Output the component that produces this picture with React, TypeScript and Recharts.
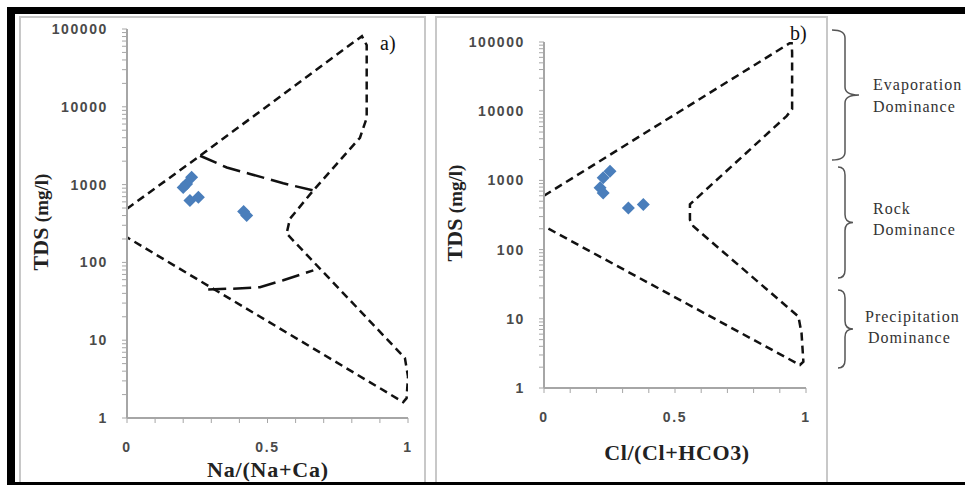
import React from 'react';
import { ComposedChart, Line, Scatter, XAxis, YAxis } from 'recharts';

// ---- data ----
const yTicks = [
  1, 2, 3, 4, 5, 6, 7, 8, 9,
  10, 20, 30, 40, 50, 60, 70, 80, 90,
  100, 200, 300, 400, 500, 600, 700, 800, 900,
  1000, 2000, 3000, 4000, 5000, 6000, 7000, 8000, 9000,
  10000, 20000, 30000, 40000, 50000, 60000, 70000, 80000, 90000,
  100000,
];
const yLabels = [1, 10, 100, 1000, 10000, 100000];
const xTicks = [0, 0.1, 0.2, 0.3, 0.4, 0.5, 0.6, 0.7, 0.8, 0.9, 1];
const xLabels = [0, 0.5, 1];

// panel a: Na/(Na+Ca)
const samplesA = [
  { x: 0.23, y: 1240 },
  { x: 0.212, y: 1020 },
  { x: 0.2, y: 920 },
  { x: 0.224, y: 624 },
  { x: 0.254, y: 690 },
  { x: 0.426, y: 400 },
  { x: 0.415, y: 450 },
];
const outerA = [
  { x: 0, y: 490 },
  { x: 0.26, y: 2350 },
  { x: 0.836, y: 81000 },
  { x: 0.853, y: 62000 },
  { x: 0.853, y: 7200 },
  { x: 0.829, y: 4000 },
  { x: 0.663, y: 840 },
  { x: 0.58, y: 365 },
  { x: 0.568, y: 235 },
  { x: 0.989, y: 5.9 },
  { x: 1.0, y: 3.4 },
  { x: 0.995, y: 1.8 },
  { x: 0.983, y: 1.6 },
  { x: 0, y: 210 },
];
const innerUpperA = [
  { x: 0.26, y: 2350 },
  { x: 0.355, y: 1660 },
  { x: 0.438, y: 1370 },
  { x: 0.556, y: 1040 },
  { x: 0.663, y: 840 },
];
const innerLowerA = [
  { x: 0.289, y: 45 },
  { x: 0.378, y: 46 },
  { x: 0.473, y: 48 },
  { x: 0.556, y: 59 },
  { x: 0.663, y: 79 },
];

// panel b: Cl/(Cl+HCO3)
const samplesB = [
  { x: 0.252, y: 1360 },
  { x: 0.226, y: 1090 },
  { x: 0.214, y: 784 },
  { x: 0.226, y: 660 },
  { x: 0.322, y: 400 },
  { x: 0.379, y: 447 },
];
const outerB = [
  { x: 0, y: 600 },
  { x: 0.945, y: 100000 },
  { x: 0.947, y: 70000 },
  { x: 0.947, y: 10700 },
  { x: 0.926, y: 8500 },
  { x: 0.557, y: 450 },
  { x: 0.557, y: 270 },
  { x: 0.57, y: 217 },
  { x: 0.971, y: 10.8 },
  { x: 0.983, y: 6.2 },
  { x: 0.99, y: 2.4 },
  { x: 0.977, y: 2.15 },
  { x: 0, y: 217 },
];

const AXIS = '#a6a6a6';
const TICKTXT = '#4a4a4a';
const BLUE = '#4a7ebb';
const SANS = "'Liberation Sans', Arial, sans-serif";
const SERIF = "'Liberation Serif', 'DejaVu Serif', 'Times New Roman', serif";

const YTick = (props: any) => {
  const { x, y, payload } = props;
  if (!yLabels.includes(payload.value)) return <g />;
  return (
    <text x={x} y={y} dy={5} textAnchor="end" fill={TICKTXT} fontSize={14} fontWeight="bold"
      style={{ fontFamily: SANS }} letterSpacing={1.6}>
      {payload.value}
    </text>
  );
};

const XTick = (props: any) => {
  const { x, y, payload } = props;
  if (!xLabels.includes(payload.value)) return <g />;
  return (
    <text x={x} y={y} dy={10} textAnchor="middle" fill={TICKTXT} fontSize={14} fontWeight="bold"
      style={{ fontFamily: SANS }} letterSpacing={1.6}>
      {payload.value}
    </text>
  );
};

const Diamond = (props: any) => {
  const { cx, cy } = props;
  const r = 6.5;
  return <path d={`M${cx},${cy - r}L${cx + r},${cy}L${cx},${cy + r}L${cx - r},${cy}Z`} fill={BLUE} />;
};

const brace = (y1: number, y2: number, xL: number, xS: number, xT: number) => {
  const ym = (y1 + y2) / 2;
  const r = 8;
  return `M${xL},${y1} Q${xS},${y1} ${xS},${y1 + r} L${xS},${ym - r} Q${xS},${ym} ${xT},${ym} Q${xS},${ym} ${xS},${ym + r} L${xS},${y2 - r} Q${xS},${y2} ${xL},${y2}`;
};

const Panel = ({ width, margin, samples, lines }: any) => (
  <ComposedChart width={width} height={485} margin={margin}>
    <XAxis dataKey="x" type="number" domain={[0, 1]} ticks={xTicks} allowDataOverflow
      height={30} tick={<XTick />} tickSize={5} tickMargin={19}
      axisLine={{ stroke: AXIS, strokeWidth: 2 }} tickLine={{ stroke: AXIS }} interval={0} />
    <YAxis dataKey="y" type="number" scale="log" domain={[1, 100000]} ticks={yTicks} allowDataOverflow
      width={70} tick={<YTick />} tickSize={5} tickMargin={14}
      axisLine={{ stroke: AXIS, strokeWidth: 2 }} tickLine={{ stroke: AXIS }} interval={0} />
    {lines.map((l: any, i: number) => (
      <Line key={i} data={l.data} dataKey="y" type="linear" stroke="#111" strokeWidth={2.5}
        strokeDasharray={l.dash} dot={false} activeDot={false} isAnimationActive={false} />
    ))}
    <Scatter data={samples} dataKey="y" shape={<Diamond />} isAnimationActive={false} />
  </ComposedChart>
);

export default function App() {
  const serifStyle = { fontFamily: SERIF };
  return (
    <div style={{ position: 'absolute', left: 0, top: 0, width: 965, height: 485, background: '#fff', overflow: 'hidden' }}>
      <svg width={965} height={485} style={{ position: 'absolute', left: 0, top: 0 }}>
        <rect x={20} y={17} width={405} height={470} fill="none" stroke="#c8c8c8" strokeWidth={2} />
        <rect x={436} y={17} width={391} height={470} fill="none" stroke="#c8c8c8" strokeWidth={2} />
      </svg>
      <div style={{ position: 'absolute', left: 0, top: 0 }}>
        <Panel width={420} margin={{ top: 29, right: 12, bottom: 37, left: 57 }} samples={samplesA}
          lines={[
            { data: outerA, dash: '8 5' },
            { data: innerUpperA, dash: '18 7' },
            { data: innerLowerA, dash: '18 7' },
          ]} />
      </div>
      <div style={{ position: 'absolute', left: 420, top: 0 }}>
        <Panel width={400} margin={{ top: 42, right: 14, bottom: 67, left: 54 }} samples={samplesB}
          lines={[{ data: outerB, dash: '8 5' }]} />
      </div>
      <svg width={965} height={485} style={{ position: 'absolute', left: 0, top: 0, pointerEvents: 'none' }}>
        {/* frame */}
        <rect x={7} y={7} width={958} height={7} fill="#000" />
        <rect x={7} y={7} width={8} height={478} fill="#000" />
        <rect x={7} y={482} width={958} height={3} fill="#000" />
        {/* axis titles */}
        <text transform="translate(48,222) rotate(-90)" textAnchor="middle" style={serifStyle} fontWeight="bold" fill="#222">
          <tspan fontSize={22}>TDS </tspan><tspan fontSize={19}>(mg/l)</tspan>
        </text>
        <text transform="translate(462,213) rotate(-90)" textAnchor="middle" style={serifStyle} fontWeight="bold" fill="#222">
          <tspan fontSize={22}>TDS </tspan><tspan fontSize={19}>(mg/l)</tspan>
        </text>
        <text x={268} y={477} textAnchor="middle" style={serifStyle} fontWeight="bold" fontSize={22} letterSpacing={0.8} fill="#222">Na/(Na+Ca)</text>
        <text x={677} y={460} textAnchor="middle" style={serifStyle} fontWeight="bold" fontSize={22} letterSpacing={0.6} fill="#222">Cl/(Cl+HCO3)</text>
        <text x={380} y={50} style={serifStyle} fontSize={20} fill="#111">a)</text>
        <text x={790} y={40} style={serifStyle} fontSize={20} fill="#111">b)</text>
        {/* braces */}
        <path d={brace(30, 160, 832, 845, 859)} fill="none" stroke="#555" strokeWidth={1.5} />
        <path d={brace(167, 278, 838, 845, 853)} fill="none" stroke="#555" strokeWidth={1.5} />
        <path d={brace(290, 368, 838, 845, 853)} fill="none" stroke="#555" strokeWidth={1.5} />
        <g style={serifStyle} fontSize={16} letterSpacing={1} fill="#333">
          <text x={873} y={90}>Evaporation</text>
          <text x={873} y={112}>Dominance</text>
          <text x={873} y={214}>Rock</text>
          <text x={873} y={235}>Dominance</text>
          <text x={865} y={322}>Precipitation</text>
          <text x={868} y={343}>Dominance</text>
        </g>
      </svg>
    </div>
  );
}
